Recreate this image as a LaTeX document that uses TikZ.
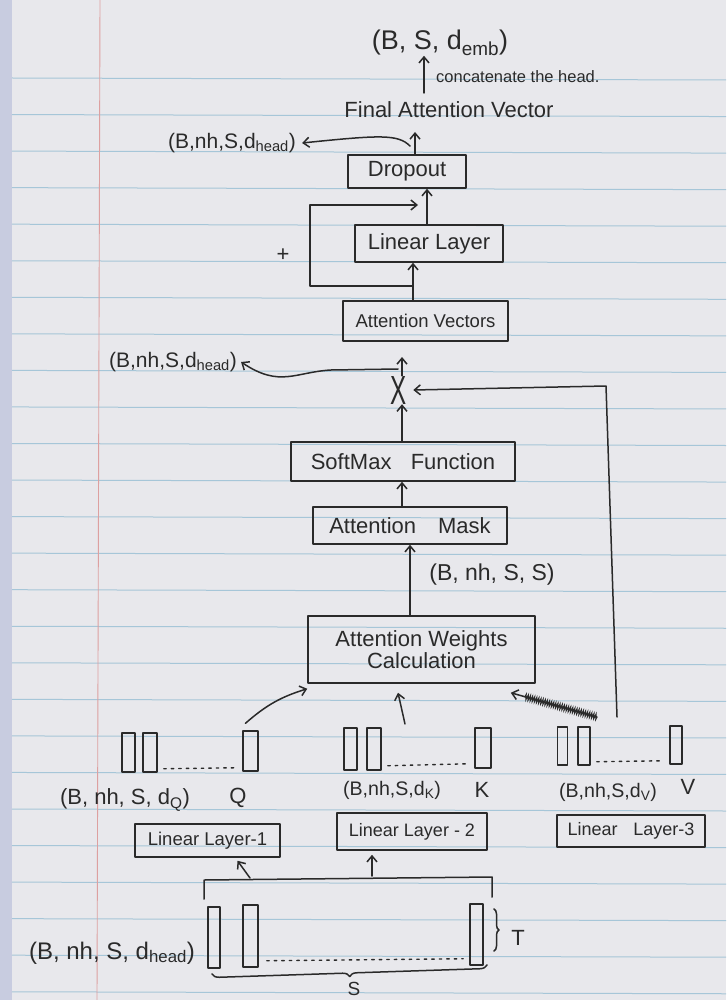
\documentclass[tikz,border=0pt]{standalone}
\usepackage{graphicx}
\usepackage{fontspec}
\setmainfont{Liberation Sans}
\usetikzlibrary{arrows.meta,decorations.pathmorphing,decorations.pathreplacing,calc}
\definecolor{paper}{HTML}{E8E8EC}
\definecolor{ruleblue}{HTML}{A6C6D8}
\definecolor{marginred}{HTML}{DDA0A0}
\definecolor{ink}{HTML}{2A2A2A}
\definecolor{binding}{HTML}{C8CCE0}
\newcommand{\fs}[1]{\fontsize{#1}{#1}\selectfont}
\begin{document}
\begin{tikzpicture}[x=1pt,y=-1pt,
  pen/.style={draw=ink, line width=1.5pt, line cap=round, line join=round},
  arr/.style={pen, -{Straight Barb[length=6pt,width=10pt]}},
  box/.style={pen, rectangle, inner sep=0pt, text=ink, font=\fs{22}},
  tok/.style={pen, rectangle, inner sep=0pt, minimum width=13pt},
  lbl/.style={inner sep=0pt, text=ink, font=\fs{22}},
  dots/.style={draw=ink, line width=1.4pt, dash pattern=on 2.5pt off 5pt, line cap=round},
  hbrace/.style={pen, decorate, decoration={brace, amplitude=#1}},
  scrib/.style={draw=ink, line width=1.1pt, decorate, decoration={zigzag, segment length=2.2pt, amplitude=2.5pt}},
]
% paper
\fill[paper] (0,0) rectangle (726,1000);
\useasboundingbox (0,0) rectangle (726,1000);
\fill[binding] (0,0) rectangle (12,1000);
\foreach \k in {0,...,25} \draw[ruleblue, line width=1pt] (12,{78+36.55*\k}) -- (726,{80+36.55*\k});
\draw[marginred, line width=0.9pt] (100,0) -- (97,1000);

% top labels
\node[lbl, font=\fs{27}] (out) at (440,43) {(B, S, d\textsubscript{emb})};
\node[lbl, font=\fs{16.5}, anchor=west] (cat) at (436,77) {concatenate the head.};
\node[lbl] (final) at (449,110) {Final Attention Vector};
\node[lbl, font=\fs{21}] (dh1) at (232,143) {(B,nh,S,d\textsubscript{head})};

% boxes
\node[box, minimum width=118pt, minimum height=33pt] (drop) at (407,171.5) {Dropout};
\node[box, minimum width=148pt, minimum height=37pt] (lin) at (429,243.5) {Linear Layer};
\node[lbl] (plus) at (283,255) {+};
\node[box, minimum width=165pt, minimum height=40pt, font=\fs{18.5}] (attv) at (425.5,321) {Attention Vectors};
\node[lbl, font=\fs{21}] (dh2) at (173,362) {(B,nh,S,d\textsubscript{head})};
\node[lbl] (mul) at (399,390) {\scalebox{1.1}[1.85]{X}};
\node[box, minimum width=224pt, minimum height=39pt] (soft) at (403,461.5) {SoftMax\hspace{0.6em} Function};
\node[box, minimum width=194pt, minimum height=37pt] (mask) at (410,525.5) {Attention\hspace{1em}Mask};
\node[lbl, font=\fs{23}] (bnss) at (492,575) {(B, nh, S, S)};
\node[box, minimum width=227pt, minimum height=67pt, align=center] (aw) at (421.5,649.5) {Attention Weights\\Calculation};

% Q group
\node[tok, minimum height=39pt] (q1) at (128.5,752.5) {};
\node[tok, minimum height=39pt, minimum width=14pt] (q2) at (150,752.5) {};
\node[tok, minimum height=40pt, minimum width=15pt] (q3) at (250.5,751) {};
\draw[dots] ([xshift=6pt,yshift=4pt]q2.south east) -- ([xshift=-6pt,yshift=4pt]q3.south west);
\node[lbl] (dq) at (125,800) {(B, nh, S, d\textsubscript{Q})};
\node[lbl] (qn) at (238,798) {Q};
\node[box, minimum width=145pt, minimum height=33pt, font=\fs{18.5}] (ll1) at (207.5,840.5) {Linear Layer-1};

% K group
\node[tok, minimum height=42pt] (k1) at (350.5,749) {};
\node[tok, minimum height=42pt, minimum width=14pt] (k2) at (374,749) {};
\node[tok, minimum height=40pt, minimum width=16pt] (k3) at (483,748) {};
\draw[dots] ([xshift=6pt,yshift=5pt]k2.south east) -- ([xshift=-6pt,yshift=5pt]k3.south west);
\node[lbl, font=\fs{19.6}] (dk) at (392,790) {(B,nh,S,d\textsubscript{K})};
\node[lbl] (kn) at (482,790) {K};
\node[box, minimum width=150pt, minimum height=37pt, font=\fs{18}] (ll2) at (412,831.5) {Linear Layer - 2};

% V group
\node[tok, minimum height=38pt, minimum width=10pt] (v1) at (562.5,746) {};
\node[tok, minimum height=38pt, minimum width=12pt] (v2) at (584,746) {};
\node[tok, minimum height=38pt, minimum width=12pt] (v3) at (676,745) {};
\draw[dots] ([xshift=6pt,yshift=4pt]v2.south east) -- ([xshift=-6pt,yshift=4pt]v3.south west);
\node[lbl, font=\fs{19.6}] (dv) at (608,792) {(B,nh,S,d\textsubscript{V})};
\node[lbl] (vn) at (688,787) {V};
\node[box, minimum width=148pt, minimum height=32pt, font=\fs{18}] (ll3) at (631,831) {Linear\hspace{0.6em} Layer-3};

% bottom input
\node[tok, minimum height=61pt, minimum width=12pt] (t1) at (214,937.5) {};
\node[tok, minimum height=62pt, minimum width=15pt] (t2) at (250.5,936) {};
\node[tok, minimum height=61pt, minimum width=13pt] (t3) at (476.5,934.5) {};
\draw[dots] ([xshift=8pt,yshift=7pt]t2.south east) -- ([xshift=-6pt,yshift=7pt]t3.south west);
\node[lbl, font=\fs{24}] (dhb) at (112,953) {(B, nh, S, d\textsubscript{head})};
\draw[pen] (204,899) -- (204,880) -- (492,877) -- (492,897);
\draw[hbrace=5pt] (494,909) -- (494,951);
\node[lbl] (tl) at (518,938) {T};
\draw[hbrace=7pt] (487,965) -- (212,974);
\node[lbl, font=\fs{19}] (sl) at (354,989) {S};

% connectors
\coordinate (cbot) at (424,93);
\draw[arr] (cbot) -- (out.south -| cbot);
\coordinate (ftip) at (415,132);
\draw[arr] (drop.north -| ftip) -- (ftip);
\coordinate (br1) at (410,146);
\draw[arr] (br1) .. controls (398,134) and (380,135) .. ([xshift=6pt]dh1.east);
\coordinate (s2) at (427,206);
\draw[arr] (lin.north -| s2) -- (drop.south -| s2);
\coordinate (rb) at (413,286);
\draw[arr] (rb) -- (310,286) -- (310,205) -- (418,205);
\draw[arr] (attv.north -| rb) -- (lin.south -| rb);
\coordinate (avt) at (402,357);
\draw[arr] (mul.north -| avt) -- (avt);
\coordinate (br2) at (398,369);
\draw[arr] (br2) -- (331,370) .. controls (295,372) and (280,388) .. ([xshift=4pt]dh2.east);
\coordinate (vtop) at (617,717);
\draw[arr] (vtop) -- (606,386) -- ([xshift=6pt]mul.east);
\draw[arr] (soft.north -| avt) -- (mul.south -| avt);
\draw[arr] (mask.north -| avt) -- (soft.south -| avt);
\coordinate (x4) at (410,600);
\draw[arr] (aw.north -| x4) -- (mask.south -| x4);
\draw[arr] ([xshift=-5pt,yshift=7pt]q3.north) to[bend left=12] ([yshift=-5pt]aw.south west);
\coordinate (kt) at (405,724);
\draw[arr] (kt) -- ([xshift=-23.5pt,yshift=-9pt]aw.south);
\coordinate (vs) at (597,717);
\coordinate (vh) at ([xshift=-25pt,yshift=-9pt]aw.south east);
\draw[arr] (vs) -- (vh);
\draw[scrib] (vs) -- ($(vs)!0.84!(vh)$);
\coordinate (b1) at (250,878);
\draw[arr] (b1) -- ([xshift=30pt,yshift=-3pt]ll1.south);
\coordinate (b2) at (372,876);
\draw[arr] (b2) -- ([xshift=-40pt,yshift=-4pt]ll2.south);
\end{tikzpicture}
\end{document}
